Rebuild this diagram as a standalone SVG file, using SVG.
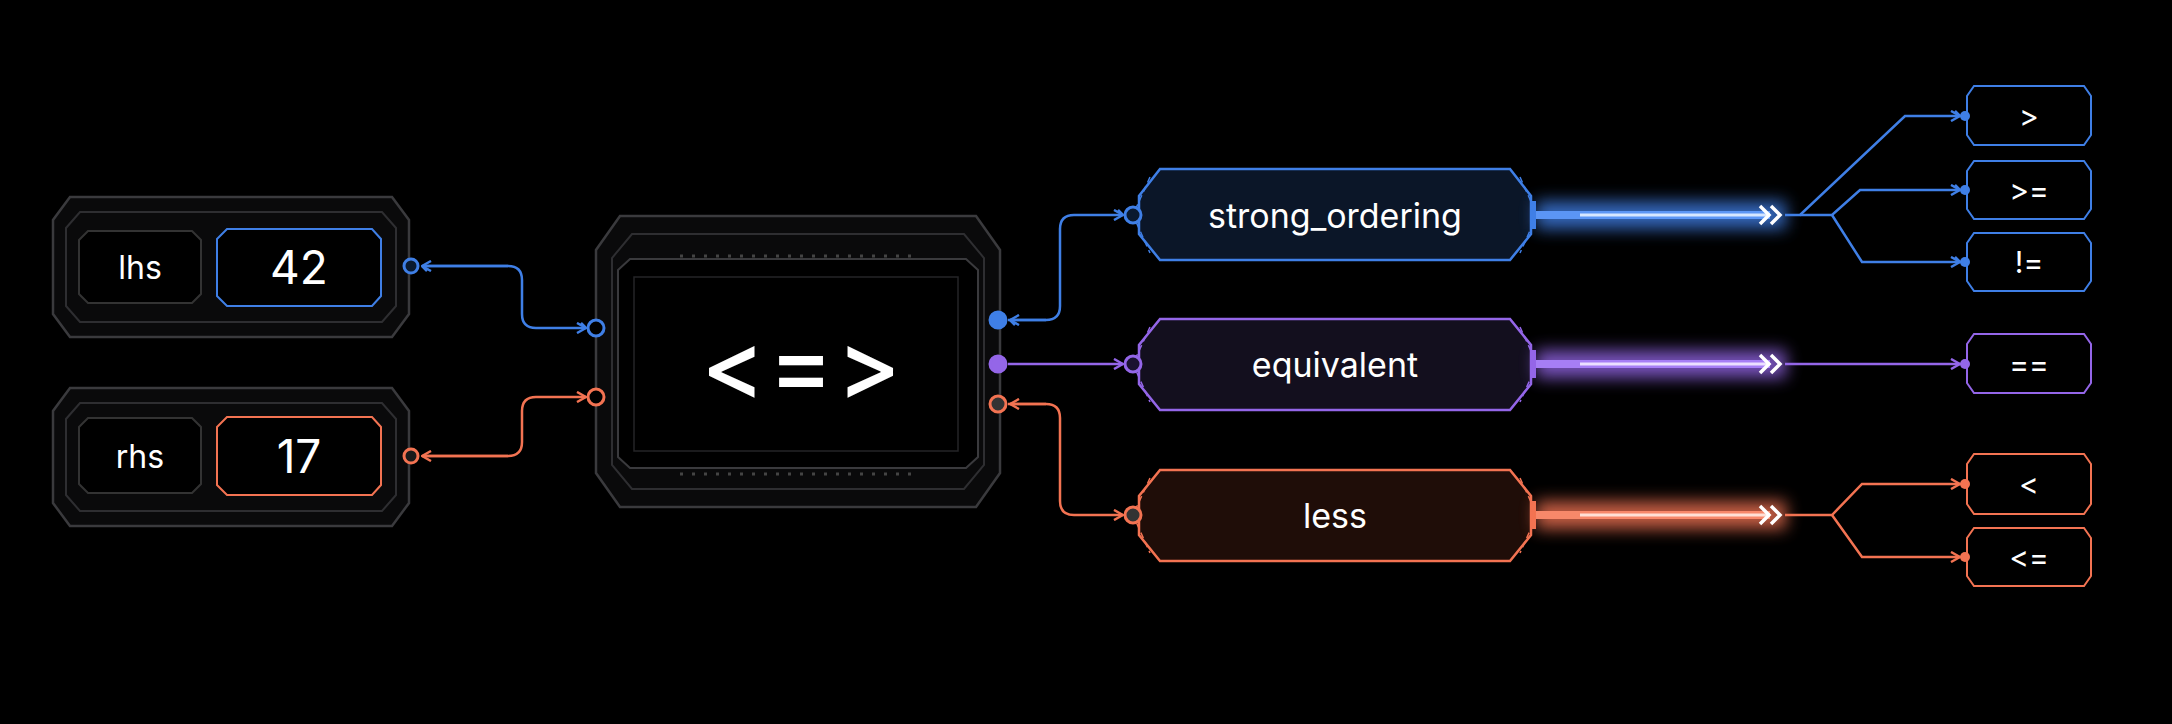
<svg xmlns="http://www.w3.org/2000/svg" width="2172" height="724" viewBox="0 0 2172 724">
<defs>
<style>
.fr{fill:#0a0a0b;stroke:#3a3a3d;stroke-width:2.5}
.fr2{fill:none;stroke:#2e2e31;stroke-width:2}
.t{font-family:Inter,"Open Sans",sans-serif;fill:#fff;text-anchor:middle;dominant-baseline:central;font-variant-ligatures:none;font-feature-settings:"liga" 0,"calt" 0}
.b{stroke:#3f7fe6}.p{stroke:#9466e8}.o{stroke:#f37352}
.ln{fill:none;stroke-width:2.5}
.res{fill:#000;stroke-width:2}
</style>
<filter id="glow" x="-20%" y="-200%" width="140%" height="500%"><feGaussianBlur stdDeviation="8"/></filter>
<marker id="ab" viewBox="0 0 12 12" refX="11" refY="6" markerWidth="12" markerHeight="12" markerUnits="userSpaceOnUse" orient="auto"><path d="M2 1 L11 6 L2 11 M6 1 L11 6" fill="none" stroke="#3f7fe6" stroke-width="2.5"/></marker>
<marker id="ao" viewBox="0 0 12 12" refX="11" refY="6" markerWidth="12" markerHeight="12" markerUnits="userSpaceOnUse" orient="auto"><path d="M2 1 L11 6 L2 11" fill="none" stroke="#f37352" stroke-width="2.5"/></marker>
<marker id="ap" viewBox="0 0 12 12" refX="11" refY="6" markerWidth="12" markerHeight="12" markerUnits="userSpaceOnUse" orient="auto"><path d="M2 1 L11 6 L2 11" fill="none" stroke="#9466e8" stroke-width="2.5"/></marker>
</defs>
<rect width="2172" height="724" fill="#000"/>

<g id="lhs">
<path class="fr" d="M70 197 H392 L409 220 V314 L392 337 H70 L53 314 V220 Z"/>
<path class="fr2" d="M80 212 H382 L396 228 V306 L382 322 H80 L66 306 V228 Z"/>
<path d="M79 240 L88 231 H192 L201 240 V294 L192 303 H88 L79 294 Z" fill="#000" stroke="#333" stroke-width="2"/>
<path d="M217 239 L227 229 H372 L381 239 V296 L372 306 H227 L217 296 Z" fill="#000" stroke="#3f7fe6" stroke-width="2"/>
<text class="t" x="140" y="267" font-size="32">lhs</text>
<text class="t" x="299" y="267" font-size="46">42</text>
<circle cx="411" cy="266" r="7" fill="#0a1a30" stroke="#3f7fe6" stroke-width="3"/>
</g>
<g id="rhs">
<path class="fr" d="M70 388 H392 L409 411 V503 L392 526 H70 L53 503 V411 Z"/>
<path class="fr2" d="M80 403 H382 L396 419 V495 L382 511 H80 L66 495 V419 Z"/>
<path d="M79 427 L88 418 H192 L201 427 V484 L192 493 H88 L79 484 Z" fill="#000" stroke="#333" stroke-width="2"/>
<path d="M217 427 L227 417 H372 L381 427 V485 L372 495 H227 L217 485 Z" fill="#000" stroke="#f37352" stroke-width="2"/>
<text class="t" x="140" y="456" font-size="32">rhs</text>
<text class="t" x="299" y="456" font-size="46">17</text>
<circle cx="411" cy="456" r="7" fill="#1a1a1a" stroke="#f37352" stroke-width="3"/>
</g>

<g id="cmp">
<path class="fr" d="M620 216 H976 L1000 250 V473 L976 507 H620 L596 473 V250 Z"/>
<path class="fr2" d="M632 234 H964 L984 258 V465 L964 489 H632 L612 465 V258 Z"/>
<path d="M618 270 L630 259 H966 L978 270 V457 L966 468 H630 L618 457 Z" fill="#000" stroke="#3a3a3d" stroke-width="2"/>
<rect x="634" y="277" width="324" height="174" fill="#000" stroke="#252527" stroke-width="1.5"/>
<line x1="680" y1="256" x2="920" y2="256" stroke="#444" stroke-width="3" stroke-dasharray="3 9"/>
<line x1="680" y1="474" x2="920" y2="474" stroke="#444" stroke-width="3" stroke-dasharray="3 9"/>
<text class="t" x="803" y="364" font-size="96" font-weight="500" letter-spacing="4">&lt;=&gt;</text>
<circle cx="596" cy="328" r="8" fill="#000" stroke="#3f7fe6" stroke-width="3"/>
<circle cx="596" cy="397" r="8" fill="#000" stroke="#f37352" stroke-width="3"/>
<circle cx="998" cy="320" r="8" fill="#3f7fe6" stroke="#3f7fe6" stroke-width="3"/>
<circle cx="998" cy="364" r="8" fill="#9466e8" stroke="#9466e8" stroke-width="3"/>
<circle cx="998" cy="404" r="8" fill="#333" stroke="#f37352" stroke-width="3"/>
</g>

<g id="strong_ordering">
<path d="M1160 169 H1510 L1531 196 V234 L1510 260 H1160 L1139 234 V196 Z" fill="#0b1628" stroke="#3f7fe6" stroke-width="2.5"/>
<path d="M1150 177 L1133 215 L1150 253 M1520 177 L1537 215 L1520 253" fill="none" stroke="#3f7fe6" stroke-width="1.5" stroke-dasharray="6 4"/>
<rect x="1531" y="201" width="5" height="28" fill="#3f7fe6"/>
<text class="t" x="1335" y="215" font-size="34">strong_ordering</text>
<circle cx="1133" cy="215" r="8" fill="#0a1a30" stroke="#3f7fe6" stroke-width="3"/>
</g>
<g id="equivalent">
<path d="M1160 319 H1510 L1531 345 V384 L1510 410 H1160 L1139 384 V345 Z" fill="#130f1e" stroke="#9466e8" stroke-width="2.5"/>
<path d="M1150 327 L1133 364 L1150 402 M1520 327 L1537 364 L1520 402" fill="none" stroke="#9466e8" stroke-width="1.5" stroke-dasharray="6 4"/>
<rect x="1531" y="350" width="5" height="28" fill="#9466e8"/>
<text class="t" x="1335" y="364" font-size="34">equivalent</text>
<circle cx="1133" cy="364" r="8" fill="#1a1230" stroke="#9466e8" stroke-width="3"/>
</g>
<g id="less">
<path d="M1160 470 H1510 L1531 496 V535 L1510 561 H1160 L1139 535 V496 Z" fill="#1f0d08" stroke="#f37352" stroke-width="2.5"/>
<path d="M1150 478 L1133 515 L1150 553 M1520 478 L1537 515 L1520 553" fill="none" stroke="#f37352" stroke-width="1.5" stroke-dasharray="6 4"/>
<rect x="1531" y="501" width="5" height="28" fill="#f37352"/>
<text class="t" x="1335" y="515" font-size="34">less</text>
<circle cx="1133" cy="515" r="8" fill="#333" stroke="#f37352" stroke-width="3"/>
</g>

<g id="results">
<g id="r_gt"><path class="res b" d="M1974 86 H2084 L2091 96 V135 L2084 145 H1974 L1967 135 V96 Z"/><text class="t" x="2029" y="116" font-size="30">&gt;</text></g>
<g id="r_ge"><path class="res b" d="M1974 161 H2084 L2091 171 V209 L2084 219 H1974 L1967 209 V171 Z"/><text class="t" x="2029" y="190" font-size="30">&gt;=</text></g>
<g id="r_ne"><path class="res b" d="M1974 233 H2084 L2091 243 V281 L2084 291 H1974 L1967 281 V243 Z"/><text class="t" x="2029" y="262" font-size="30">!=</text></g>
<g id="r_eq"><path class="res p" d="M1974 334 H2084 L2091 344 V383 L2084 393 H1974 L1967 383 V344 Z"/><text class="t" x="2029" y="364" font-size="30">==</text></g>
<g id="r_lt"><path class="res o" d="M1974 454 H2084 L2091 464 V504 L2084 514 H1974 L1967 504 V464 Z"/><text class="t" x="2029" y="484" font-size="30">&lt;</text></g>
<g id="r_le"><path class="res o" d="M1974 528 H2084 L2091 538 V576 L2084 586 H1974 L1967 576 V538 Z"/><text class="t" x="2029" y="557" font-size="30">&lt;=</text></g>
</g>

<g id="connectors">
<path class="ln b" d="M425 266 H508 Q522 266 522 280 V314 Q522 328 536 328 H586" marker-end="url(#ab)"/>
<path class="ln b" d="M508 266 H422" marker-end="url(#ab)"/>
<path class="ln o" d="M425 456 H508 Q522 456 522 442 V411 Q522 397 536 397 H586" marker-end="url(#ao)"/>
<path class="ln o" d="M508 456 H422" marker-end="url(#ao)"/>
<path class="ln b" d="M1008 320 H1046 Q1060 320 1060 306 V229 Q1060 215 1074 215 H1123" marker-end="url(#ab)"/>
<path class="ln b" d="M1046 320 H1010" marker-end="url(#ab)"/>
<path class="ln p" d="M1008 364 H1123" marker-end="url(#ap)"/>
<path class="ln o" d="M1008 404 H1046 Q1060 404 1060 418 V501 Q1060 515 1074 515 H1123" marker-end="url(#ao)"/>
<path class="ln o" d="M1046 404 H1010" marker-end="url(#ao)"/>

<g id="beams">
<rect x="1536" y="201" width="250" height="28" fill="#3f7fe6" opacity="0.8" filter="url(#glow)"/>
<line x1="1536" y1="215" x2="1770" y2="215" stroke="#5b95f5" stroke-width="8"/>
<line x1="1580" y1="215" x2="1770" y2="215" stroke="#d6e6ff" stroke-width="3"/>
<path d="M1760 206 L1769 215 L1760 224 M1771 206 L1780 215 L1771 224" fill="none" stroke="#fff" stroke-width="3.5"/>
<rect x="1536" y="350" width="250" height="28" fill="#9466e8" opacity="0.8" filter="url(#glow)"/>
<line x1="1536" y1="364" x2="1770" y2="364" stroke="#a67ef5" stroke-width="8"/>
<line x1="1580" y1="364" x2="1770" y2="364" stroke="#ece0ff" stroke-width="3"/>
<path d="M1760 355 L1769 364 L1760 373 M1771 355 L1780 364 L1771 373" fill="none" stroke="#fff" stroke-width="3.5"/>
<rect x="1536" y="501" width="250" height="28" fill="#f37352" opacity="0.8" filter="url(#glow)"/>
<line x1="1536" y1="515" x2="1770" y2="515" stroke="#f7886a" stroke-width="8"/>
<line x1="1580" y1="515" x2="1770" y2="515" stroke="#ffe0d6" stroke-width="3"/>
<path d="M1760 506 L1769 515 L1760 524 M1771 506 L1780 515 L1771 524" fill="none" stroke="#fff" stroke-width="3.5"/>
</g>
<path class="ln b" stroke-width="2" d="M1785 215 H1800 L1905 116 H1960" marker-end="url(#ab)"/>
<path class="ln b" stroke-width="2" d="M1800 215 H1832 L1860 190 H1960" marker-end="url(#ab)"/>
<path class="ln b" stroke-width="2" d="M1832 215 L1862 262 H1960" marker-end="url(#ab)"/>
<path class="ln p" stroke-width="2" d="M1785 364 H1960" marker-end="url(#ap)"/>
<path class="ln o" stroke-width="2" d="M1785 515 H1832 L1862 484 H1960" marker-end="url(#ao)"/>
<path class="ln o" stroke-width="2" d="M1832 515 L1862 557 H1960" marker-end="url(#ao)"/>
<g fill="#3f7fe6"><circle cx="1965" cy="116" r="5"/><circle cx="1965" cy="190" r="5"/><circle cx="1965" cy="262" r="5"/></g>
<circle cx="1965" cy="364" r="5" fill="#9466e8"/>
<g fill="#f37352"><circle cx="1965" cy="484" r="5"/><circle cx="1965" cy="557" r="5"/></g>
</g>
</svg>
